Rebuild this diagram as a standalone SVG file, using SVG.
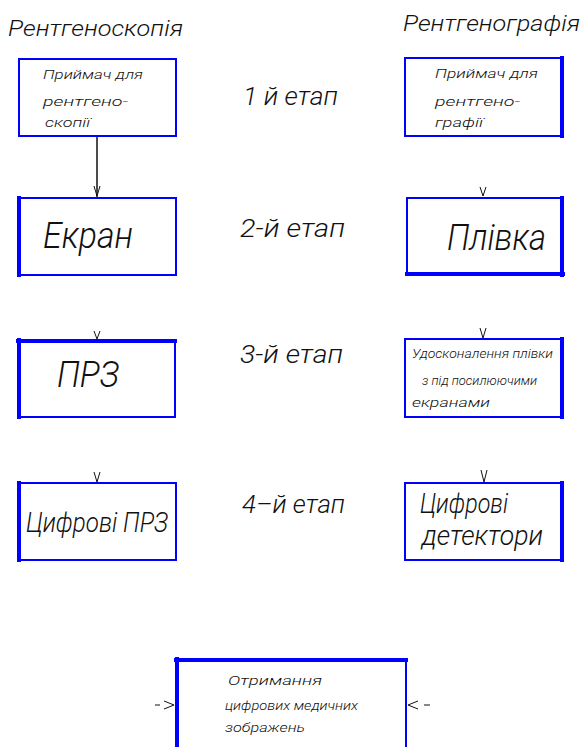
<svg xmlns="http://www.w3.org/2000/svg" width="583" height="747" viewBox="0 0 583 747">
  <style>
    .box { fill: #ffffff; stroke: #0000ff; stroke-width: 2; }
    .edge { stroke: #0000ff; stroke-width: 4; stroke-linecap: square; }
    .t { font-family: Roboto, "Liberation Sans", sans-serif; font-weight: 300; font-style: italic; fill: #111111; }
    .title { font-size: 22px; }
    .small { font-size: 13px; }
    .big { font-size: 36px; }
    .mid { font-size: 27px; }
    .stage { font-size: 26px; }
    .conn { stroke: #111111; stroke-width: 1.5; fill: none; }
    .tip { stroke: #111111; stroke-width: 1; fill: none; }
  </style>
  <rect width="583" height="747" fill="#ffffff"/>

  <!-- column headings -->
  <text class="t title" x="8" y="36" textLength="175" lengthAdjust="spacingAndGlyphs">Рентгеноскопія</text>
  <text class="t title" x="403" y="31" textLength="177" lengthAdjust="spacingAndGlyphs">Рентгенографія</text>

  <!-- stage labels -->
  <g id="stage1"><text class="t stage" x="243" y="105" textLength="95" lengthAdjust="spacingAndGlyphs">1 й етап</text></g>
  <g id="stage2"><text class="t stage" x="240" y="237" textLength="105" lengthAdjust="spacingAndGlyphs">2-й етап</text></g>
  <g id="stage3"><text class="t stage" x="240" y="363" textLength="103" lengthAdjust="spacingAndGlyphs">3-й етап</text></g>
  <g id="stage4"><text class="t stage" x="242" y="513" textLength="103" lengthAdjust="spacingAndGlyphs">4–й етап</text></g>

  <!-- connectors -->
  <g id="connectors">
    <line class="conn" x1="97" y1="137" x2="97" y2="197"/>
    <path class="tip" d="M94,186 L97,196 L100,186"/>
    <path class="tip" d="M480,187 L483,196 L486,187"/>
    <path class="tip" d="M94,331 L97,339 L100,331"/>
    <path class="tip" d="M480,328 L483,338 L486,328"/>
    <path class="tip" d="M94,472 L97,482 L100,472"/>
    <path class="tip" d="M481,470 L484,482 L487,470"/>
    <path class="tip" d="M155,705 L160,705 M164,701 L174,705 L164,709"/>
    <path class="tip" d="M430,705 L424,705 M418,701 L408,705 L418,709"/>
  </g>

  <!-- fluoroscopy column -->
  <g id="receiver-scopy">
    <rect class="box" x="19" y="59" width="157" height="77"/>
    <text class="t small" x="43" y="79" textLength="100" lengthAdjust="spacingAndGlyphs">Приймач для</text>
    <text class="t small" x="43" y="106" textLength="85" lengthAdjust="spacingAndGlyphs">рентгено-</text>
    <text class="t small" x="45" y="127" textLength="45" lengthAdjust="spacingAndGlyphs">скопії</text>
  </g>
  <g id="screen">
    <rect class="box" x="18" y="198" width="158" height="77"/>
    <line class="edge" x1="19" y1="198" x2="19" y2="275"/>
    <text class="t big" x="43" y="248" textLength="90" lengthAdjust="spacingAndGlyphs">Екран</text>
  </g>
  <g id="image-intensifier">
    <rect class="box" x="18" y="340" width="157" height="77"/>
    <line class="edge" x1="18" y1="341" x2="175" y2="341"/>
    <line class="edge" x1="19" y1="340" x2="19" y2="417"/>
    <text class="t big" x="57" y="387" textLength="62" lengthAdjust="spacingAndGlyphs">ПРЗ</text>
  </g>
  <g id="digital-intensifier">
    <rect class="box" x="18" y="483" width="158" height="77"/>
    <line class="edge" x1="19" y1="483" x2="19" y2="560"/>
    <text class="t mid" x="26" y="532" textLength="142" lengthAdjust="spacingAndGlyphs">Цифрові ПРЗ</text>
  </g>

  <!-- radiography column -->
  <g id="receiver-graphy">
    <rect class="box" x="405" y="58" width="158" height="78"/>
    <line class="edge" x1="562" y1="58" x2="562" y2="136"/>
    <text class="t small" x="435" y="78" textLength="103" lengthAdjust="spacingAndGlyphs">Приймач для</text>
    <text class="t small" x="435" y="106" textLength="85" lengthAdjust="spacingAndGlyphs">рентгено-</text>
    <text class="t small" x="435" y="127" textLength="48" lengthAdjust="spacingAndGlyphs">графії</text>
  </g>
  <g id="film">
    <rect class="box" x="407" y="198" width="156" height="77"/>
    <line class="edge" x1="562" y1="198" x2="562" y2="275"/>
    <line class="edge" x1="407" y1="274" x2="563" y2="274"/>
    <text class="t big" x="447" y="250" textLength="99" lengthAdjust="spacingAndGlyphs">Плівка</text>
  </g>
  <g id="film-screens">
    <rect class="box" x="405" y="339" width="158" height="78"/>
    <line class="edge" x1="562" y1="339" x2="562" y2="417"/>
    <text class="t small" x="412" y="358" textLength="141" lengthAdjust="spacingAndGlyphs">Удосконалення плівки</text>
    <text class="t small" x="422" y="385" textLength="115" lengthAdjust="spacingAndGlyphs">з  під посилюючими</text>
    <text class="t small" x="412" y="407" textLength="78" lengthAdjust="spacingAndGlyphs">екранами</text>
  </g>
  <g id="digital-detectors">
    <rect class="box" x="405" y="483" width="158" height="77"/>
    <line class="edge" x1="562" y1="483" x2="562" y2="560"/>
    <text class="t mid" x="420" y="513" textLength="88" lengthAdjust="spacingAndGlyphs">Цифрові</text>
    <text class="t mid" x="422" y="545" textLength="121" lengthAdjust="spacingAndGlyphs">детектори</text>
  </g>

  <!-- common result -->
  <g id="digital-images">
    <rect class="box" x="176" y="659" width="230" height="100"/>
    <line class="edge" x1="176" y1="660" x2="406" y2="660"/>
    <line class="edge" x1="177" y1="659" x2="177" y2="747"/>
    <text class="t small" x="228" y="685" textLength="94" lengthAdjust="spacingAndGlyphs">Отримання</text>
    <text class="t small" x="225" y="710" textLength="133" lengthAdjust="spacingAndGlyphs">цифрових медичних</text>
    <text class="t small" x="225" y="732" textLength="80" lengthAdjust="spacingAndGlyphs">зображень</text>
  </g>
</svg>
